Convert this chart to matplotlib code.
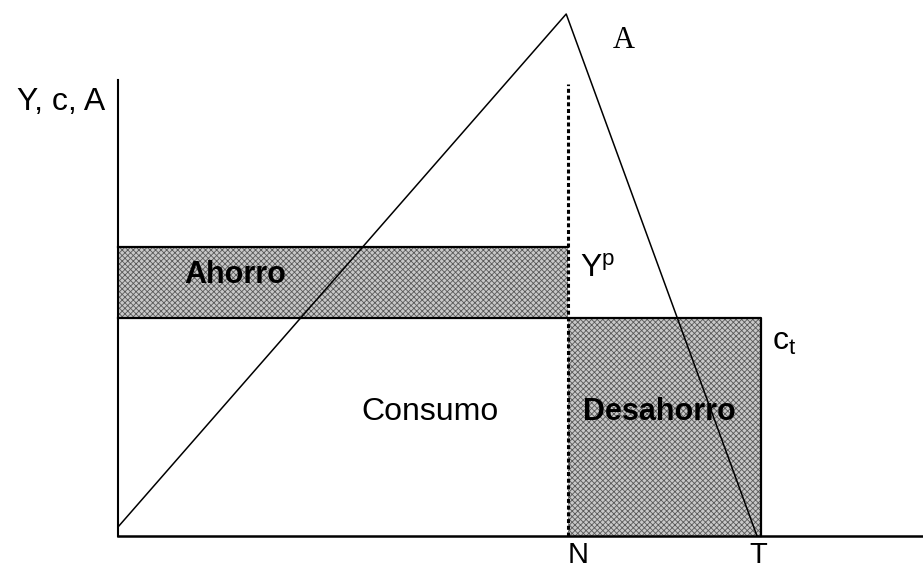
import matplotlib
matplotlib.use("Agg")
import matplotlib.pyplot as plt
from matplotlib.patches import Rectangle

# diagram values (abstract units)
N = 10.0           # retirement age
T = 14.3           # end of life
Yp = 6.42          # permanent income
ct = 4.84          # consumption
A_start = 0.2      # assets at t=0
A_peak = (9.96, 11.6)
A_end = 14.2
y_axis_top = 10.13
dash_top = 10.04
x_axis_end = 17.9

plt.rcParams['font.family'] = ['Liberation Sans', 'DejaVu Sans']
plt.rcParams['mathtext.fontset'] = 'custom'
plt.rcParams['mathtext.rm'] = 'Liberation Sans'
plt.rcParams['mathtext.it'] = 'Liberation Sans'
plt.rcParams['hatch.linewidth'] = 0.6

fig = plt.figure(figsize=(9.23, 5.68), dpi=100)
ax = fig.add_axes([0, 0, 1, 1])
ax.set_xlim(-118 / 45, 805 / 45)
ax.set_ylim(-32 / 45, 536 / 45)
ax.axis('off')

fs = 23

# shaded areas (fine checker pattern)
for xy, w, h in [((0, ct), N, Yp - ct), ((N, 0), T - N, ct)]:
    ax.add_patch(Rectangle(xy, w, h, facecolor='#c8c8c8', hatch='xxxxxx',
                           edgecolor='#5a5a5a', linewidth=0, zorder=1))

# outlines
ax.plot([0, N], [Yp, Yp], color='black', lw=1.6, zorder=3)
ax.plot([0, T, T], [ct, ct, 0], color='black', lw=1.6, zorder=3)
ax.plot([N, N], [0, dash_top], color='black', lw=2.2, ls=(0, (1.3, 0.9)), zorder=3)

# axes
ax.plot([0, 0], [0, y_axis_top], color='black', lw=1.5, zorder=4)
ax.plot([0, x_axis_end], [0, 0], color='black', lw=1.8, zorder=4, clip_on=False)

# assets path
ax.plot([0, A_peak[0], A_end], [A_start, A_peak[1], 0], color='black', lw=1.1,
        zorder=3, clip_on=False)

# labels
ax.text(-1.27, 9.47, 'Y, c, A', fontsize=fs, ha='center', va='baseline')
ax.text(11.24, 10.84, 'A', fontsize=22, ha='center', va='baseline',
        family=['Liberation Serif'])
ax.text(N + 0.27, Yp - 0.66, r'Y$^{\rm p}$', fontsize=fs, ha='left', va='baseline')
ax.text(T + 0.23, ct - 0.71, r'c$_{\rm t}$', fontsize=fs, ha='left', va='baseline')
ax.text(6.93, 2.58, 'Consumo', fontsize=fs, ha='center', va='baseline')
ax.text(12.02, 2.58, 'Desahorro', fontsize=22, ha='center', va='baseline',
        fontweight='bold', zorder=5)
ax.text(2.6, 5.62, 'Ahorro', fontsize=22, ha='center', va='baseline',
        fontweight='bold', zorder=5)
ax.text(N + 0.22, -0.12, 'N', fontsize=21, ha='center', va='top')
ax.text(T - 0.08, -0.12, 'T', fontsize=21, ha='center', va='top')

fig.savefig('out.png', dpi=100)
